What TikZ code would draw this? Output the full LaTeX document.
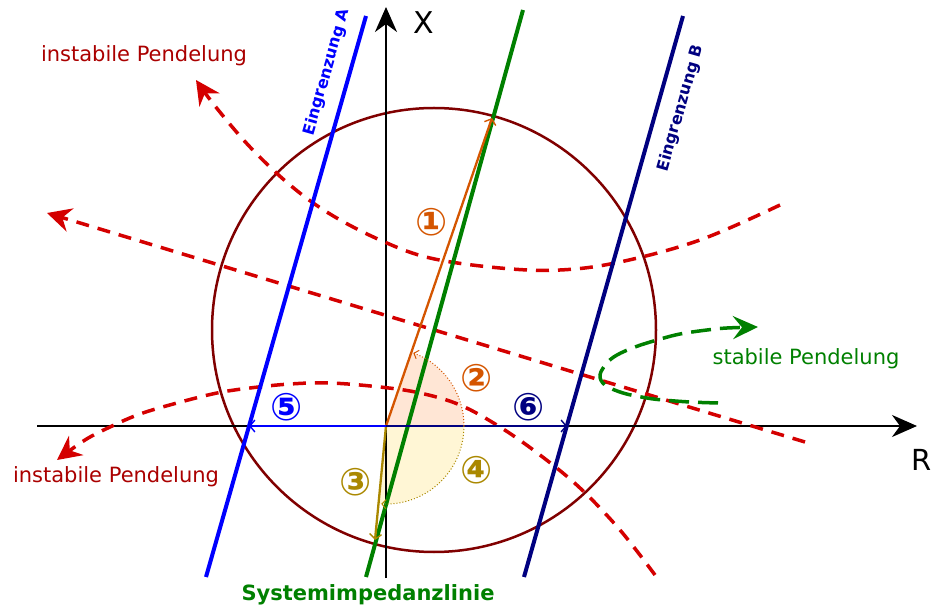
\documentclass[tikz,border=0pt]{standalone}
\usepackage{fontspec}
\setmainfont{DejaVu Sans}
\usetikzlibrary{arrows.meta,calc}
\definecolor{redd}{HTML}{D40000}
\definecolor{redtxt}{HTML}{AA0000}
\definecolor{circ}{HTML}{800000}
\definecolor{bluA}{HTML}{0000FF}
\definecolor{navB}{HTML}{000080}
\definecolor{grn}{HTML}{008000}
\definecolor{orng}{HTML}{D45500}
\definecolor{gold}{HTML}{AA8800}
\definecolor{orfill}{HTML}{FFE6D5}
\definecolor{yefill}{HTML}{FFF6D5}
\tikzset{
  axisline/.style={line width=2pt, -{Stealth[length=25pt,width=22pt,inset=8pt]}},
  reddash/.style={redd, line width=3.5pt, dash pattern=on 13pt off 9pt, -{Stealth[length=24pt,width=24pt,inset=8pt]}},
  grndash/.style={grn, line width=3.5pt, dash pattern=on 20pt off 9pt, -{Stealth[length=25pt,width=23pt,inset=9pt]}},
  limline/.style={line width=4pt},
  vecline/.style={line width=2.3pt, -{Straight Barb[length=5pt,width=12pt,line width=1.4pt]}},
  arcline/.style={line width=1pt, dotted, -{Straight Barb[length=4pt,width=9pt,line width=1pt]}},
  lbl/.style={font=\fontsize{21}{24}\selectfont},
  numlbl/.style={font=\bfseries\fontsize{38}{40}\selectfont},
  limlbl/.style={font=\bfseries\fontsize{16}{18}\selectfont, rotate=74},
}
\begin{document}
\begin{tikzpicture}[x=1pt,y=-1pt]
\useasboundingbox (0,0) rectangle (935,609);

\coordinate (O) at (386,426);
\coordinate (Rs) at (37,426);
\coordinate (Re) at (917,426);
\coordinate (Xs) at (386,578);
\coordinate (Xe) at (386,7);
\coordinate (A1) at (206,577);
\coordinate (A2) at (366,16);
\coordinate (B1) at (524,577);
\coordinate (B2) at (683,16);
\coordinate (G1) at (366,577);
\coordinate (G2) at (523,10);
\coordinate (V1) at (492,118);
\coordinate (V3) at (375,540);
\coordinate (PA) at (249,426);
\coordinate (PB) at (567,426);
\coordinate (C) at (434,330);

% sectors
\fill[orfill] (O) -- ++(0:78) arc[start angle=0, end angle=-70.8, radius=78] -- cycle;
\fill[yefill] (O) -- ++(0:78) arc[start angle=0, end angle=95, radius=78] -- cycle;

% circle
\draw[circ, line width=2.5pt] (C) circle[radius=222];

% axes
\draw[axisline] (Rs) -- (Re);
\draw[axisline] (Xs) -- (Xe);

% red dashed curves
\draw[reddash] plot[smooth, tension=0.6] coordinates {(780,205) (700,240) (620,262) (560,270) (500,268) (430,258) (380,240) (330,214) (290,185) (250,147) (215,106) (196,80)};
\draw[reddash] (805,442) -- (47,213);
\draw[reddash] plot[smooth, tension=0.6] coordinates {(655,575) (620,530) (580,488) (540,455) (500,427) (460,405) (420,393) (380,387) (330,383) (290,384) (250,388) (217,393) (177,403) (140,414) (110,427) (85,440) (57,460)};

% green dashed curve
\draw[grndash] plot[smooth, tension=0.6] coordinates {(718,403) (690,402) (663,400) (647,398) (623,393) (605,385) (600,375) (607,363) (617,355) (635,347) (657,340) (680,334) (707,330) (727,328) (758,327)};

% limit lines
\draw[bluA, limline] (A1) -- (A2);
\draw[navB, limline] (B1) -- (B2);
\draw[grn, limline] (G1) -- (G2);

% vectors
\draw[orng, vecline] (O) -- (V1);
\draw[gold, vecline] (O) -- (V3);
\draw[navB, vecline] (O) -- (PB);
\draw[bluA, vecline] (O) -- (PA);

% angle arcs
\draw[orng, arcline] ($(O)+(78,0)$) arc[start angle=0, end angle=-69.5, radius=78];
\draw[gold, arcline] ($(O)+(78,0)$) arc[start angle=0, end angle=93.5, radius=78];

% labels
\node[lbl, redtxt] (t1) at (144,56) {instabile Pendelung};
\node[lbl, redtxt] (t2) at (116,477) {instabile Pendelung};
\node[lbl, grn] (t3) at (806,359) {stabile Pendelung};
\node[grn, font=\bfseries\fontsize{21}{24}\selectfont] (t4) at (368,595) {Systemimpedanzlinie};
\node[font=\fontsize{30}{32}\selectfont, inner sep=0pt] (tX) at (423.5,23) {X};
\node[font=\fontsize{29}{32}\selectfont, inner sep=0pt] (tR) at (922,460) {R};
\node[limlbl, bluA] (tA) at (327,72) {Eingrenzung A};
\node[limlbl, navB] (tB) at (681,108) {Eingrenzung B};

\node[numlbl, orng] (n1) at (432,222) {①};
\node[numlbl, orng] (n2) at (477,378) {②};
\node[numlbl, gold] (n3) at (356,482) {③};
\node[numlbl, gold] (n4) at (477,470) {④};
\node[numlbl, bluA] (n5) at (287,407) {⑤};
\node[numlbl, navB] (n6) at (529,407) {⑥};
\end{tikzpicture}
\end{document}
